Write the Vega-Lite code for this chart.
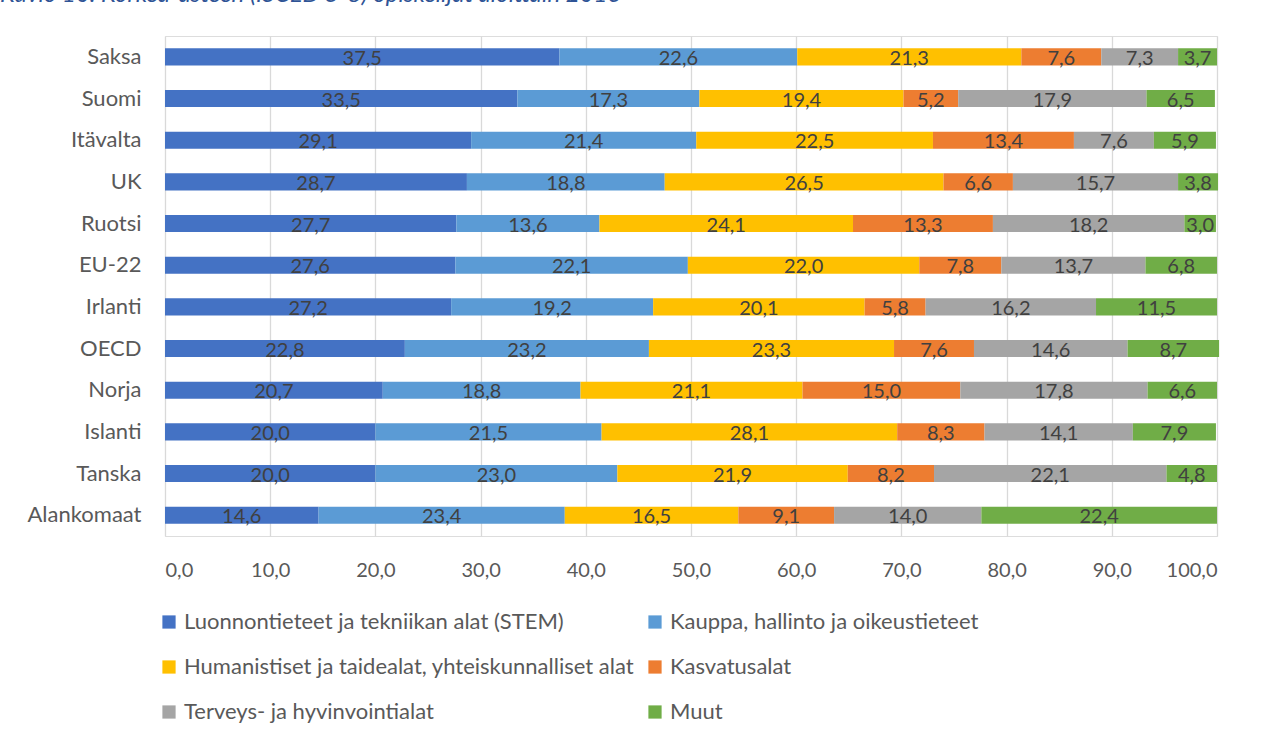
{
  "$schema": "https://vega.github.io/schema/vega-lite/v6.json",
  "width": 1052,
  "height": 500,
  "autosize": {"type": "none"},
  "padding": {"left": 165, "top": 36, "right": 54, "bottom": 204},
  "background": "white",
  "title": {
    "text": "Kuvio 10. Korkea-asteen (ISCED 5-8) opiskelijat aloittain 2016",
    "anchor": "start",
    "frame": "group",
    "dx": -165,
    "offset": 29,
    "font": "Lato",
    "fontStyle": "italic",
    "fontWeight": "normal",
    "fontSize": 24,
    "color": "#2F5496"
  },
  "data": {
    "values": [
      {"country": "Saksa", "k": 1, "cat": "Luonnontieteet ja tekniikan alat (STEM)", "value": 37.5},
      {"country": "Saksa", "k": 2, "cat": "Kauppa, hallinto ja oikeustieteet", "value": 22.6},
      {"country": "Saksa", "k": 3, "cat": "Humanistiset ja taidealat, yhteiskunnalliset alat", "value": 21.3},
      {"country": "Saksa", "k": 4, "cat": "Kasvatusalat", "value": 7.6},
      {"country": "Saksa", "k": 5, "cat": "Terveys- ja hyvinvointialat", "value": 7.3},
      {"country": "Saksa", "k": 6, "cat": "Muut", "value": 3.7},
      {"country": "Suomi", "k": 1, "cat": "Luonnontieteet ja tekniikan alat (STEM)", "value": 33.5},
      {"country": "Suomi", "k": 2, "cat": "Kauppa, hallinto ja oikeustieteet", "value": 17.3},
      {"country": "Suomi", "k": 3, "cat": "Humanistiset ja taidealat, yhteiskunnalliset alat", "value": 19.4},
      {"country": "Suomi", "k": 4, "cat": "Kasvatusalat", "value": 5.2},
      {"country": "Suomi", "k": 5, "cat": "Terveys- ja hyvinvointialat", "value": 17.9},
      {"country": "Suomi", "k": 6, "cat": "Muut", "value": 6.5},
      {"country": "Itävalta", "k": 1, "cat": "Luonnontieteet ja tekniikan alat (STEM)", "value": 29.1},
      {"country": "Itävalta", "k": 2, "cat": "Kauppa, hallinto ja oikeustieteet", "value": 21.4},
      {"country": "Itävalta", "k": 3, "cat": "Humanistiset ja taidealat, yhteiskunnalliset alat", "value": 22.5},
      {"country": "Itävalta", "k": 4, "cat": "Kasvatusalat", "value": 13.4},
      {"country": "Itävalta", "k": 5, "cat": "Terveys- ja hyvinvointialat", "value": 7.6},
      {"country": "Itävalta", "k": 6, "cat": "Muut", "value": 5.9},
      {"country": "UK", "k": 1, "cat": "Luonnontieteet ja tekniikan alat (STEM)", "value": 28.7},
      {"country": "UK", "k": 2, "cat": "Kauppa, hallinto ja oikeustieteet", "value": 18.8},
      {"country": "UK", "k": 3, "cat": "Humanistiset ja taidealat, yhteiskunnalliset alat", "value": 26.5},
      {"country": "UK", "k": 4, "cat": "Kasvatusalat", "value": 6.6},
      {"country": "UK", "k": 5, "cat": "Terveys- ja hyvinvointialat", "value": 15.7},
      {"country": "UK", "k": 6, "cat": "Muut", "value": 3.8},
      {"country": "Ruotsi", "k": 1, "cat": "Luonnontieteet ja tekniikan alat (STEM)", "value": 27.7},
      {"country": "Ruotsi", "k": 2, "cat": "Kauppa, hallinto ja oikeustieteet", "value": 13.6},
      {"country": "Ruotsi", "k": 3, "cat": "Humanistiset ja taidealat, yhteiskunnalliset alat", "value": 24.1},
      {"country": "Ruotsi", "k": 4, "cat": "Kasvatusalat", "value": 13.3},
      {"country": "Ruotsi", "k": 5, "cat": "Terveys- ja hyvinvointialat", "value": 18.2},
      {"country": "Ruotsi", "k": 6, "cat": "Muut", "value": 3.0},
      {"country": "EU-22", "k": 1, "cat": "Luonnontieteet ja tekniikan alat (STEM)", "value": 27.6},
      {"country": "EU-22", "k": 2, "cat": "Kauppa, hallinto ja oikeustieteet", "value": 22.1},
      {"country": "EU-22", "k": 3, "cat": "Humanistiset ja taidealat, yhteiskunnalliset alat", "value": 22.0},
      {"country": "EU-22", "k": 4, "cat": "Kasvatusalat", "value": 7.8},
      {"country": "EU-22", "k": 5, "cat": "Terveys- ja hyvinvointialat", "value": 13.7},
      {"country": "EU-22", "k": 6, "cat": "Muut", "value": 6.8},
      {"country": "Irlanti", "k": 1, "cat": "Luonnontieteet ja tekniikan alat (STEM)", "value": 27.2},
      {"country": "Irlanti", "k": 2, "cat": "Kauppa, hallinto ja oikeustieteet", "value": 19.2},
      {"country": "Irlanti", "k": 3, "cat": "Humanistiset ja taidealat, yhteiskunnalliset alat", "value": 20.1},
      {"country": "Irlanti", "k": 4, "cat": "Kasvatusalat", "value": 5.8},
      {"country": "Irlanti", "k": 5, "cat": "Terveys- ja hyvinvointialat", "value": 16.2},
      {"country": "Irlanti", "k": 6, "cat": "Muut", "value": 11.5},
      {"country": "OECD", "k": 1, "cat": "Luonnontieteet ja tekniikan alat (STEM)", "value": 22.8},
      {"country": "OECD", "k": 2, "cat": "Kauppa, hallinto ja oikeustieteet", "value": 23.2},
      {"country": "OECD", "k": 3, "cat": "Humanistiset ja taidealat, yhteiskunnalliset alat", "value": 23.3},
      {"country": "OECD", "k": 4, "cat": "Kasvatusalat", "value": 7.6},
      {"country": "OECD", "k": 5, "cat": "Terveys- ja hyvinvointialat", "value": 14.6},
      {"country": "OECD", "k": 6, "cat": "Muut", "value": 8.7},
      {"country": "Norja", "k": 1, "cat": "Luonnontieteet ja tekniikan alat (STEM)", "value": 20.7},
      {"country": "Norja", "k": 2, "cat": "Kauppa, hallinto ja oikeustieteet", "value": 18.8},
      {"country": "Norja", "k": 3, "cat": "Humanistiset ja taidealat, yhteiskunnalliset alat", "value": 21.1},
      {"country": "Norja", "k": 4, "cat": "Kasvatusalat", "value": 15.0},
      {"country": "Norja", "k": 5, "cat": "Terveys- ja hyvinvointialat", "value": 17.8},
      {"country": "Norja", "k": 6, "cat": "Muut", "value": 6.6},
      {"country": "Islanti", "k": 1, "cat": "Luonnontieteet ja tekniikan alat (STEM)", "value": 20.0},
      {"country": "Islanti", "k": 2, "cat": "Kauppa, hallinto ja oikeustieteet", "value": 21.5},
      {"country": "Islanti", "k": 3, "cat": "Humanistiset ja taidealat, yhteiskunnalliset alat", "value": 28.1},
      {"country": "Islanti", "k": 4, "cat": "Kasvatusalat", "value": 8.3},
      {"country": "Islanti", "k": 5, "cat": "Terveys- ja hyvinvointialat", "value": 14.1},
      {"country": "Islanti", "k": 6, "cat": "Muut", "value": 7.9},
      {"country": "Tanska", "k": 1, "cat": "Luonnontieteet ja tekniikan alat (STEM)", "value": 20.0},
      {"country": "Tanska", "k": 2, "cat": "Kauppa, hallinto ja oikeustieteet", "value": 23.0},
      {"country": "Tanska", "k": 3, "cat": "Humanistiset ja taidealat, yhteiskunnalliset alat", "value": 21.9},
      {"country": "Tanska", "k": 4, "cat": "Kasvatusalat", "value": 8.2},
      {"country": "Tanska", "k": 5, "cat": "Terveys- ja hyvinvointialat", "value": 22.1},
      {"country": "Tanska", "k": 6, "cat": "Muut", "value": 4.8},
      {"country": "Alankomaat", "k": 1, "cat": "Luonnontieteet ja tekniikan alat (STEM)", "value": 14.6},
      {"country": "Alankomaat", "k": 2, "cat": "Kauppa, hallinto ja oikeustieteet", "value": 23.4},
      {"country": "Alankomaat", "k": 3, "cat": "Humanistiset ja taidealat, yhteiskunnalliset alat", "value": 16.5},
      {"country": "Alankomaat", "k": 4, "cat": "Kasvatusalat", "value": 9.1},
      {"country": "Alankomaat", "k": 5, "cat": "Terveys- ja hyvinvointialat", "value": 14.0},
      {"country": "Alankomaat", "k": 6, "cat": "Muut", "value": 22.4}
    ]
  },
  "encoding": {
    "y": {
      "field": "country",
      "type": "nominal",
      "sort": ["Saksa", "Suomi", "Itävalta", "UK", "Ruotsi", "EU-22", "Irlanti", "OECD", "Norja", "Islanti", "Tanska", "Alankomaat"],
      "scale": {"paddingInner": 0.59, "paddingOuter": 0.295},
      "axis": {
        "title": null,
        "domain": false,
        "ticks": false,
        "grid": false,
        "labelFont": "Lato",
        "labelFontSize": 22,
        "labelColor": "#595959",
        "labelPadding": 24
      }
    }
  },
  "layer": [
    {
      "mark": {"type": "bar"},
      "encoding": {
        "x": {
          "field": "value",
          "type": "quantitative",
          "stack": "zero",
          "scale": {"domain": [0, 100], "nice": false},
          "axis": {
            "title": null,
            "values": [0, 10, 20, 30, 40, 50, 60, 70, 80, 90, 100],
            "labelExpr": "replace(format(datum.value, '.1f'), '.', ',')",
            "grid": true,
            "gridColor": "#D9D9D9",
            "gridWidth": 1.3,
            "domain": false,
            "ticks": false,
            "labelFont": "Lato",
            "labelFontSize": 20,
            "labelColor": "#595959",
            "labelPadding": 24
          }
        },
        "color": {
          "field": "cat",
          "type": "nominal",
          "scale": {
            "domain": ["Luonnontieteet ja tekniikan alat (STEM)", "Kauppa, hallinto ja oikeustieteet", "Humanistiset ja taidealat, yhteiskunnalliset alat", "Kasvatusalat", "Terveys- ja hyvinvointialat", "Muut"],
            "range": ["#4472C4", "#5B9BD5", "#FFC000", "#ED7D31", "#A5A5A5", "#70AD47"]
          },
          "legend": {
            "title": null,
            "orient": "none",
            "direction": "horizontal",
            "legendX": -7,
            "legendY": 575,
            "columns": 2,
            "symbolType": "square",
            "symbolSize": 175,
            "symbolStrokeWidth": 0,
            "labelFont": "Lato",
            "labelFontSize": 22,
            "labelColor": "#595959",
            "labelLimit": 700,
            "labelOffset": 4,
            "rowPadding": 23,
            "columnPadding": 9
          }
        },
        "order": {"field": "k", "type": "quantitative"}
      }
    },
    {
      "transform": [
        {"stack": "value", "groupby": ["country"], "sort": [{"field": "k", "order": "ascending"}], "as": ["v0", "v1"]},
        {"calculate": "(datum.v0 + datum.v1) / 2", "as": "mid"},
        {"calculate": "replace(format(datum.value, '.1f'), '.', ',')", "as": "lab"}
      ],
      "mark": {"type": "text", "font": "Lato", "fontSize": 20, "color": "#404040", "dy": 2},
      "encoding": {
        "x": {"field": "mid", "type": "quantitative"},
        "text": {"field": "lab"}
      }
    }
  ]
}
